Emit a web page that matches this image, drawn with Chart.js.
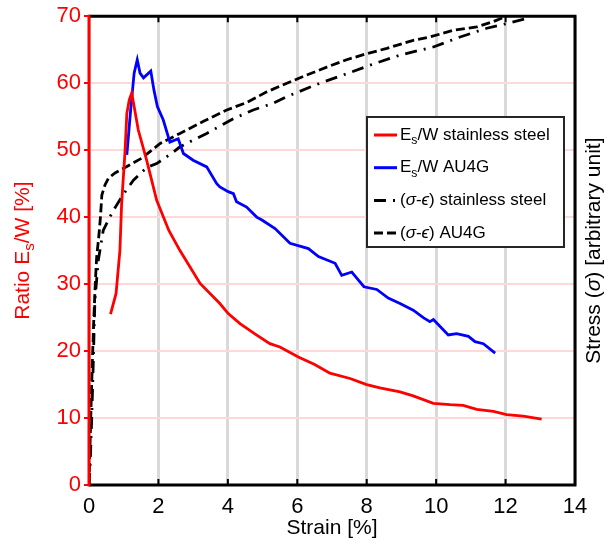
<!DOCTYPE html>
<html>
<head>
<meta charset="utf-8">
<script src="https://cdn.jsdelivr.net/npm/chart.js@4.4.1/dist/chart.umd.min.js"></script>
<style>
  html, body { margin: 0; padding: 0; background: #fff; }
</style>
</head>
<body>
<canvas id="grafica" width="610" height="546"></canvas>
<script>
// Datos
// Es/W acero inoxidable
const deformRojo = [0.62, 0.78, 0.89, 0.94, 1.04, 1.09, 1.16, 1.23, 1.30, 1.42, 1.66, 1.95, 2.3, 2.62, 3.2, 3.77, 4.01, 4.35, 4.8, 5.21, 5.5, 6.03, 6.5, 6.94, 7.52, 8.0, 8.38, 8.96, 9.34, 9.92, 10.4, 10.78, 11.17, 11.65, 12.03, 12.51, 13.04];
const ratioRojo = [25.5, 28.6, 35, 42, 50, 55.5, 57.5, 58.5, 56.5, 53, 48.5, 42.5, 38, 35, 30.1, 27.1, 25.6, 24.1, 22.5, 21.1, 20.6, 19.1, 18, 16.7, 15.9, 15.0, 14.5, 13.9, 13.3, 12.2, 12.0, 11.9, 11.3, 11.0, 10.5, 10.3, 9.85];

// Es/W AU4G
const deformAzul = [1.09, 1.2, 1.3, 1.39, 1.47, 1.57, 1.78, 1.87, 1.97, 2.14, 2.33, 2.57, 2.72, 3.0, 3.39, 3.68, 3.77, 4.01, 4.16, 4.25, 4.54, 4.83, 4.97, 5.36, 5.79, 6.32, 6.61, 7.09, 7.28, 7.57, 7.92, 8.29, 8.62, 8.96, 9.34, 9.63, 9.82, 9.92, 10.35, 10.59, 10.93, 11.12, 11.36, 11.70];
const ratioAzul = [49.3, 56, 61.5, 63.5, 61.5, 60.8, 61.8, 59, 56.5, 54.5, 51.2, 51.7, 49.5, 48.5, 47.5, 45, 44.5, 43.8, 43.5, 42.3, 41.5, 40.0, 39.6, 38.3, 36.1, 35.3, 34.1, 33.1, 31.3, 31.8, 29.6, 29.2, 27.9, 27.1, 26.1, 25.0, 24.4, 24.7, 22.4, 22.6, 22.2, 21.4, 21.1, 19.7];

// (sigma-epsilon) AU4G, trazo discontinuo
const deformAU4G = [0, 0.03, 0.06, 0.1, 0.14, 0.18, 0.22, 0.28, 0.33, 0.37, 0.46, 0.56, 0.75, 1.0, 1.52, 2.05, 2.62, 3.3, 3.97, 4.54, 5.12, 5.7, 6.27, 6.85, 7.42, 8.0, 8.58, 9.34, 9.82, 10.5, 11.17, 11.65, 12.03];
const tensionAU4G = [0, 6, 12, 19, 25, 30, 34, 37, 40, 43.3, 44.8, 45.8, 46.6, 47.3, 48.8, 51, 52.5, 54.3, 56, 57.1, 58.7, 60, 61.2, 62.4, 63.5, 64.4, 65.2, 66.4, 66.9, 67.9, 68.4, 69.2, 70];

// (sigma-epsilon) acero inoxidable, trazo punto-raya
const deformInox = [0, 0.03, 0.08, 0.12, 0.17, 0.27, 0.41, 0.55, 0.7, 1.0, 1.28, 1.66, 1.95, 2.43, 2.62, 3.39, 4.16, 4.73, 5.31, 5.7, 6.65, 7.42, 8.1, 8.96, 9.92, 10.69, 11.46, 12.03, 12.7];
const tensionInox = [0, 2.7, 10.2, 17.7, 27.6, 33.6, 38, 39.5, 41, 43.5, 45.5, 47.4, 48, 49.7, 50.5, 52.5, 54.7, 56, 57, 58, 60, 61.4, 62.7, 64.2, 65.4, 66.9, 68.2, 68.9, 69.8];

// Ejes
const ticksX = [0, 2, 4, 6, 8, 10, 12, 14];
const ticksY = [0, 10, 20, 30, 40, 50, 60, 70];

const FUENTE = '"Liberation Sans", Arial, sans-serif';

function puntos(xs, ys) {
    return xs.map((x, i) => ({ x: x, y: ys[i] }));
}

// Dibuja texto con subíndices y cursivas
function textoRico(ctx, partes, x, y, tam, medir) {
    let cx = x;
    partes.forEach(([t, tipo]) => {
        const size = tipo === 'sub' ? tam * 0.72 : tam;
        ctx.font = (tipo === 'it' ? 'italic ' : '') + size + 'px ' + FUENTE;
        if (!medir) ctx.fillText(t, cx, y + (tipo === 'sub' ? tam * 0.32 : 0));
        cx += ctx.measureText(t).width;
    });
    return cx - x;
}

const leyenda = [
    { partes: [['E', ''], ['s', 'sub'], ['/W stainless steel', '']], color: 'red', dash: [] },
    { partes: [['E', ''], ['s', 'sub'], ['/W AU4G', '']], color: 'blue', dash: [] },
    { partes: [['(', ''], ['σ', 'it'], ['-', ''], ['ϵ', 'it'], [') stainless steel', '']], color: 'black', dash: [12, 7, 2, 7] },
    { partes: [['(', ''], ['σ', 'it'], ['-', ''], ['ϵ', 'it'], [') AU4G', '']], color: 'black', dash: [9, 4] }
];

// Marco, ticks interiores, títulos de ejes y leyenda
const marcoPlugin = {
    id: 'marco',
    afterDatasetsDraw(chart) {
        const { ctx, chartArea: a, scales } = chart;
        ctx.save();
        ctx.setLineDash([]);
        // ticks interiores arriba y abajo
        ctx.strokeStyle = '#000';
        ctx.lineWidth = 2;
        ticksX.forEach(v => {
            const px = scales.x.getPixelForValue(v);
            ctx.beginPath();
            ctx.moveTo(px, a.top); ctx.lineTo(px, a.top + 6);
            ctx.moveTo(px, a.bottom); ctx.lineTo(px, a.bottom - 6);
            ctx.stroke();
        });
        // bordes
        ctx.lineWidth = 3;
        ctx.beginPath();
        ctx.moveTo(a.left, a.bottom); ctx.lineTo(a.right, a.bottom); ctx.lineTo(a.right, a.top); ctx.lineTo(a.left, a.top);
        ctx.stroke();
        ctx.strokeStyle = 'red';
        ctx.beginPath();
        ctx.moveTo(a.left, a.top - 1.5); ctx.lineTo(a.left, a.bottom + 1.5);
        ctx.stroke();

        // títulos verticales
        ctx.textBaseline = 'middle';
        ctx.textAlign = 'left';
        const tituloIzq = [['Ratio E', ''], ['s', 'sub'], ['/W [%]', '']];
        ctx.fillStyle = 'red';
        ctx.save();
        ctx.translate(23, (a.top + a.bottom) / 2);
        ctx.rotate(-Math.PI / 2);
        let w = textoRico(ctx, tituloIzq, 0, 0, 21, true);
        textoRico(ctx, tituloIzq, -w / 2, 0, 21);
        ctx.restore();

        const tituloDer = [['Stress (', ''], ['σ', 'it'], [') [arbitrary unit]', '']];
        ctx.fillStyle = '#000';
        ctx.save();
        ctx.translate(594, (a.top + a.bottom) / 2);
        ctx.rotate(-Math.PI / 2);
        w = textoRico(ctx, tituloDer, 0, 0, 21, true);
        textoRico(ctx, tituloDer, -w / 2, 0, 21);
        ctx.restore();

        // leyenda
        const lx = 367, ly = 117, lw = 197, lh = 130;
        ctx.fillStyle = '#fff';
        ctx.fillRect(lx, ly, lw, lh);
        ctx.strokeStyle = '#262626';
        ctx.lineWidth = 2;
        ctx.strokeRect(lx, ly, lw, lh);
        leyenda.forEach((item, i) => {
            const yy = ly + 18 + i * 32.7;
            ctx.strokeStyle = item.color;
            ctx.lineWidth = 3;
            ctx.setLineDash(item.dash);
            ctx.beginPath();
            ctx.moveTo(lx + 7, yy); ctx.lineTo(lx + 30, yy);
            ctx.stroke();
            ctx.setLineDash([]);
            ctx.fillStyle = '#000';
            textoRico(ctx, item.partes, lx + 33, yy, 17);
        });
        ctx.restore();
    }
};

const ctx = document.getElementById('grafica').getContext('2d');
new Chart(ctx, {
    type: 'line',
    data: {
        datasets: [
            {
                label: 'Es/W stainless steel',
                data: puntos(deformRojo, ratioRojo),
                borderColor: 'red',
                borderWidth: 2.8,
                yAxisID: 'y'
            },
            {
                label: 'Es/W AU4G',
                data: puntos(deformAzul, ratioAzul),
                borderColor: 'blue',
                borderWidth: 2.8,
                yAxisID: 'y'
            },
            {
                label: '(σ-ϵ) stainless steel',
                data: puntos(deformInox, tensionInox),
                borderColor: 'black',
                borderWidth: 2.8,
                borderDash: [12, 7, 2, 7],
                yAxisID: 'y2'
            },
            {
                label: '(σ-ϵ) AU4G',
                data: puntos(deformAU4G, tensionAU4G),
                borderColor: 'black',
                borderWidth: 2.8,
                borderDash: [9, 4],
                yAxisID: 'y2'
            }
        ]
    },
    options: {
        responsive: false,
        animation: false,
        devicePixelRatio: 1,
        layout: { padding: { top: 16, left: 0, right: 0, bottom: 0 } },
        elements: {
            point: { radius: 0 },
            line: { tension: 0, fill: false }
        },
        plugins: {
            legend: { display: false },
            tooltip: { enabled: false }
        },
        scales: {
            x: {
                type: 'linear',
                min: 0,
                max: 14,
                afterBuildTicks: s => { s.ticks = ticksX.map(v => ({ value: v })); },
                afterFit: s => { s.height = 61; },
                grid: { color: '#d9d9d9', lineWidth: 3, drawTicks: false },
                border: { display: false },
                ticks: { color: '#000', padding: 9, font: { family: FUENTE, size: 22 } },
                title: {
                    display: true,
                    text: 'Strain [%]',
                    color: '#000',
                    padding: { top: 0, bottom: 5 },
                    font: { family: FUENTE, size: 21 }
                }
            },
            y: {
                type: 'linear',
                position: 'left',
                min: 0,
                max: 70,
                afterBuildTicks: s => { s.ticks = ticksY.map(v => ({ value: v })); },
                afterFit: s => { s.width = 89; },
                grid: { color: '#ffd9d9', lineWidth: 2, tickColor: 'red', tickLength: 5, tickWidth: 2 },
                border: { display: false },
                ticks: { color: 'red', padding: 3, font: { family: FUENTE, size: 22 } }
            },
            y2: {
                type: 'linear',
                position: 'right',
                min: 0,
                max: 70,
                afterFit: s => { s.width = 35; },
                grid: { display: false },
                border: { display: false },
                ticks: { display: false }
            }
        }
    },
    plugins: [marcoPlugin]
});
</script>
</body>
</html>
